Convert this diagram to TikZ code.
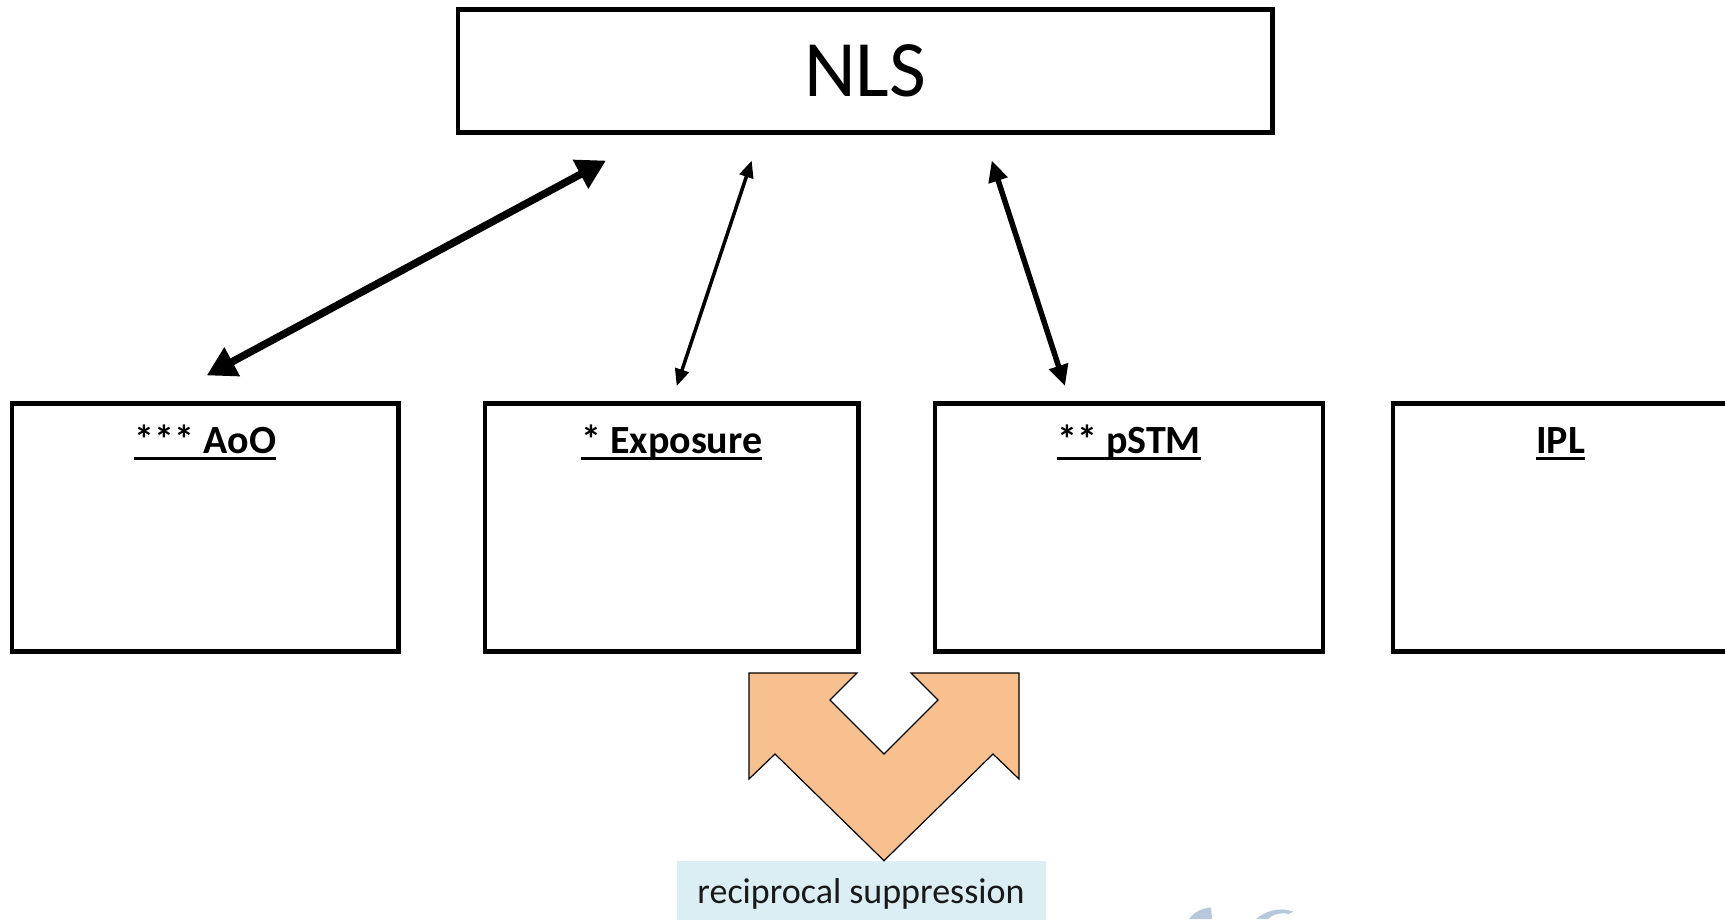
\documentclass[tikz,border=0pt]{standalone}
\usepackage{fontspec}
\setmainfont{Carlito}
\usetikzlibrary{arrows.meta,calc}
\definecolor{suppfill}{HTML}{F8C08F}
\definecolor{notefill}{HTML}{DAEEF3}
\definecolor{markblue}{HTML}{B8C8DC}
\newsavebox\lblbox
% bold heading with an underline at a fixed depth below the baseline
\newcommand\ulabel[1]{\sbox\lblbox{#1}\rlap{\rule[-0.17em]{\wd\lblbox}{0.065em}}\usebox\lblbox}
\begin{document}
\begin{tikzpicture}[x=1pt,y=-1pt,
  panel/.style={draw, line width=4.5pt, rectangle, inner sep=0pt},
  lbl/.style={anchor=base, inner sep=0pt, font=\fontsize{40}{48}\selectfont\bfseries},
  link/.style={draw, line cap=butt},
  suppress/.style={draw, fill=suppfill, line width=1.2pt, line join=miter},
]
\useasboundingbox (0,0) rectangle (1725,919);

% top box
\node[panel, minimum width=814.5pt, minimum height=123pt,
      font=\fontsize{80}{96}\selectfont] (nls) at (865.25,71) {NLS};

% row of factor boxes
\node[panel, minimum width=386.5pt, minimum height=248pt] (aoo)  at (205.25,527.5) {};
\node[panel, minimum width=373.5pt, minimum height=248pt] (expo) at (671.75,527.5) {};
\node[panel, minimum width=388pt,   minimum height=248pt] (pstm) at (1129,527.5) {};
\node[panel, minimum width=335pt,   minimum height=248pt] (ipl)  at (1560.5,527.5) {};

\node[lbl] (aoolbl)  at ($(aoo.north)+(0,52)$)  {\ulabel{*** AoO}};
\node[lbl] (expolbl) at ($(expo.north)+(0,52)$) {\ulabel{* Exposure}};
\node[lbl] (pstmlbl) at ($(pstm.north)+(0,52)$) {\ulabel{** pSTM}};
\node[lbl] (ipllbl)  at ($(ipl.north)+(0,52)$)  {\ulabel{IPL}};

% arrow end points
\coordinate (a1) at ($(nls.south)+(-259.25,25.8)$);
\coordinate (b1) at ($(aoo.north)+(1.45,-25.8)$);
\coordinate (a2) at ($(nls.south)+(-113.55,25.8)$);
\coordinate (b2) at ($(expo.north)+(4.95,-15.2)$);
\coordinate (a3) at ($(nls.south)+(126.45,25.8)$);
\coordinate (b3) at ($(pstm.north)+(-64,-15.2)$);

\draw[link, line width=7.5pt, {Triangle[length=29pt,width=31pt]}-{Triangle[length=29pt,width=31pt]}] (b1) -- (a1);
\draw[link, line width=3.5pt, {Triangle[length=17pt,width=14pt]}-{Triangle[length=17pt,width=14pt]}] (b2) -- (a2);
\draw[link, line width=5.5pt, {Triangle[length=21pt,width=19pt]}-{Triangle[length=21pt,width=19pt]}] (b3) -- (a3);

% note box
\node[fill=notefill, anchor=base, minimum width=369pt, inner xsep=0pt, inner ysep=12.3pt,
      text height=30pt, text depth=20pt, font=\fontsize{36}{43}\selectfont,
      text=black!90] (recip) at (861,903) {reciprocal suppression};

% double-headed bent arrow
\draw[suppress] (749,673) -- (857,673) -- (830,700) -- (884,754) -- (938,700)
  -- (911,673) -- (1019,673) -- (1019,779) -- (993,754) -- (884,860.7)
  -- (775,754) -- (749,779) -- cycle;

% faint mark at the lower edge
\fill[markblue] (1189,919) .. controls (1195,911) and (1203,908) .. (1211,907.5) -- (1212,919) -- cycle;
\fill[markblue] (1256,919) .. controls (1265,911) and (1280,906.5) .. (1293,911.5)
  -- (1289,914) .. controls (1280,912) and (1272,915) .. (1268,919) -- cycle;
\end{tikzpicture}
\end{document}
